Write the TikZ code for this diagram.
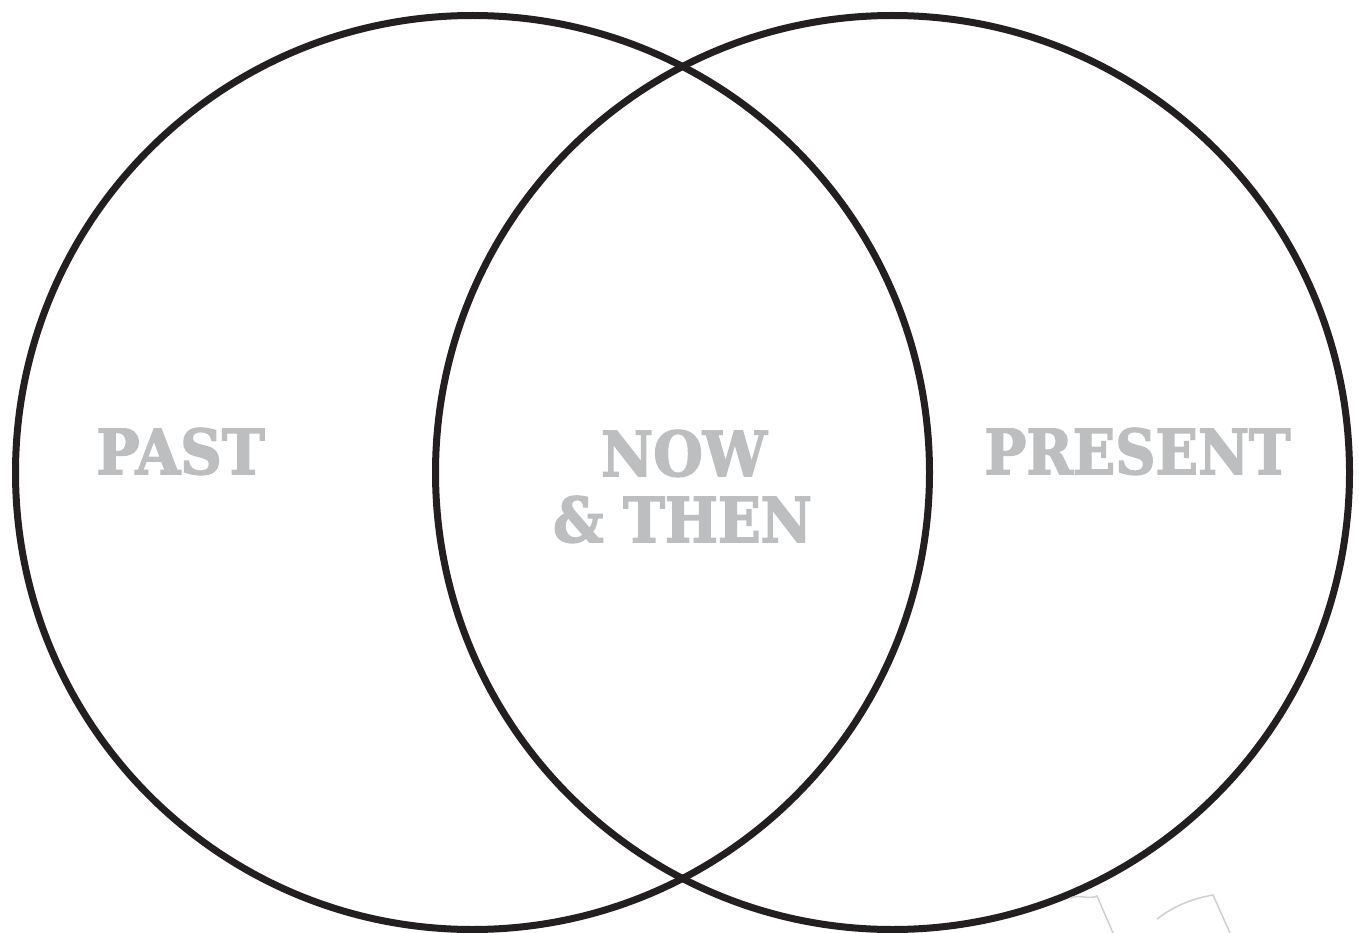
\documentclass[tikz,border=0pt]{standalone}
\usepackage{fontspec}
\setmainfont{DejaVu Serif}
\newfontfamily\heavyfont[FakeBold=2.5]{DejaVu Serif Bold}
\definecolor{ink}{HTML}{231F20}
\definecolor{label}{HTML}{BCBEC0}
\definecolor{faint}{HTML}{D0D0D0}
\begin{document}
\begin{tikzpicture}[x=1pt,y=-1pt,
  ring/.style={draw=ink,line width=7pt},
  word/.style={text=label,font=\heavyfont\fontsize{62}{62}\selectfont,anchor=base,inner sep=0pt}]
\useasboundingbox (0,0) rectangle (1359,933);
\fill[white] (0,0) rectangle (1359,933);
\node[ring,circle,minimum size=914pt,inner sep=0pt] (past) at (472.5,472.5) {};
\node[ring,circle,minimum size=914pt,inner sep=0pt] (present) at (892.5,472.5) {};
\node[word,xscale=0.93] (tpast) at (180.5,474) {PAST};
\node[word,xscale=0.92] (tnow) at (684,476) {NOW};
\node[word,xscale=0.905] (tthen) at (682.5,542) {\& THEN};
\node[word,xscale=0.9] (tpresent) at (1137.5,474) {PRESENT};
\draw[faint,line width=1.5pt] (1070,898) .. controls (1080,894) and (1088,900) .. (1097,896) -- (1113,933);
\draw[faint,line width=1.5pt] (1157,919) .. controls (1175,905) and (1195,898) .. (1213,895) -- (1230,933);
\end{tikzpicture}
\end{document}
